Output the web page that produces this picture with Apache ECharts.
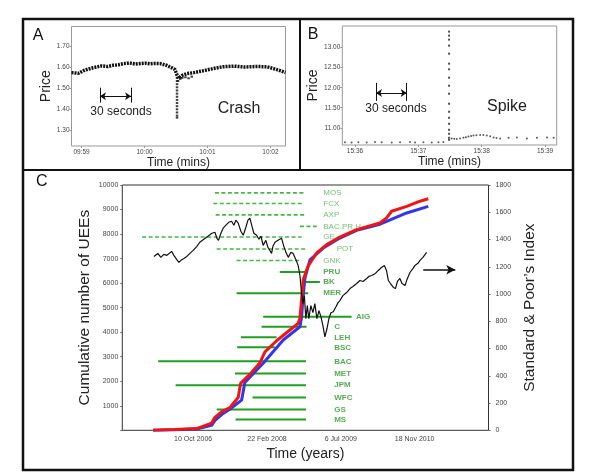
<!DOCTYPE html>
<html>
<head>
<meta charset="utf-8">
<script src="https://cdn.jsdelivr.net/npm/echarts@6/dist/echarts.min.js"></script>
<style>
  html, body { margin: 0; padding: 0; background: #fff; }
  #chart { width: 593px; height: 474px; }
</style>
</head>
<body>
<div id="chart"></div>
<script>
// ---- panel A: crash (seconds after 09:59:00, price) ----
var aSec   = [-9.6, -3, 3, 11, 19, 25, 30, 35, 40, 46, 51, 56, 61, 65, 70, 75, 81, 86, 89, 91, 92.5, 96, 100, 107, 116, 126, 135, 145, 155, 167, 177, 187, 194.4];
var aPrice = [1.575, 1.572, 1.587, 1.598, 1.607, 1.604, 1.610, 1.612, 1.618, 1.621, 1.616, 1.618, 1.620, 1.617, 1.619, 1.618, 1.610, 1.598, 1.590, 1.563, 1.548, 1.562, 1.570, 1.575, 1.584, 1.595, 1.603, 1.606, 1.602, 1.604, 1.603, 1.588, 1.576];
var aCrashSec = 91;
var aCrashPrice = [1.55, 1.535, 1.52, 1.505, 1.49, 1.475, 1.46, 1.445, 1.43, 1.415, 1.40, 1.385, 1.37, 1.36];
var aLowSec   = [92, 94, 96, 99, 102, 105];
var aLowPrice = [1.535, 1.545, 1.55, 1.553, 1.548, 1.556];
var aTicks = [0, 60, 120, 180];
var aTickLabels = ['09:59', '10:00', '10:01', '10:02'];
var aPriceTicks = [1.3, 1.4, 1.5, 1.6, 1.7];

// ---- panel B: spike (seconds after 15:36:00, price) ----
var bPreSec   = [-9.5, -3.2, 3.2, 11.1, 19, 25.3, 34.8, 42.7, 52.1, 56.9, 64.8, 72.7, 79, 83.7];
var bPrePrice = [10.64, 10.635, 10.64, 10.63, 10.645, 10.64, 10.635, 10.64, 10.645, 10.635, 10.64, 10.635, 10.64, 10.645];
var bSpikeSec = 89.1;
var bSpikePrice = [13.40, 13.30, 13.20, 13.05, 12.85, 12.60, 12.46, 12.25, 12.05, 11.85, 11.60, 11.40, 11.25, 11.10, 10.95, 10.85, 10.75, 10.70];
var bPostSec   = [91.6, 94, 96.4, 99.5, 102.7, 105, 107.4, 110, 112.2, 115, 118.5, 121.5, 124.8, 128, 131.2, 134, 137.5, 145.4, 153.3, 162.8, 172.3, 181.8, 188.1];
var bPostPrice = [10.735, 10.725, 10.72, 10.735, 10.75, 10.765, 10.78, 10.795, 10.81, 10.815, 10.82, 10.82, 10.81, 10.79, 10.76, 10.745, 10.735, 10.75, 10.76, 10.735, 10.75, 10.76, 10.75];
var bTicks = [0, 60, 120, 180];
var bTickLabels = ['15:36', '15:37', '15:38', '15:39'];
var bPriceTicks = [11, 11.5, 12, 12.5, 13];

// ---- panel C (days after 10 Oct 2006) ----
var cTicks = [0, 500, 1000, 1500];
var cTickLabels = ['10 Oct 2006', '22 Feb 2008', '6 Jul 2009', '18 Nov 2010'];

var redDays = [-271, -124, 23, 125, 147, 192, 249, 305, 321, 384, 452, 486, 565, 655, 711, 723, 734, 745, 777, 836, 904, 982, 1107, 1265, 1310, 1344, 1446, 1536, 1592];
var redUEE  = [0, 30, 70, 290, 530, 750, 930, 1340, 1910, 2280, 2750, 3200, 3650, 4090, 4360, 4570, 5320, 6130, 6680, 7230, 7570, 7840, 8180, 8450, 8660, 8930, 9130, 9340, 9440];
var blueDays = [-271, -124, 23, 125, 150, 195, 250, 328, 350, 474, 610, 723, 734, 745, 757, 791, 881, 982, 1107, 1265, 1310, 1446, 1592];
var blueUEE  = [0, 20, 50, 200, 420, 650, 870, 1230, 1950, 2730, 3680, 4220, 4600, 5500, 6200, 6950, 7430, 7800, 8150, 8400, 8520, 8860, 9130];

var spDays = [-266, -239, -219, -199, -178, -146, -131, -112, -97, -83, -63, -43, -22, 0, 25, 45, 72, 100, 127, 147, 161, 171, 188, 203, 222, 242, 260, 276, 289, 305, 323, 339, 357, 371, 384, 398, 411, 430, 445, 459, 474, 492, 506, 531, 540, 554, 574, 599, 614, 628, 644, 662, 677, 695, 711, 723, 734, 743, 753, 763, 773, 783, 797, 811, 824, 838, 852, 865, 879, 892, 906, 919, 933, 949, 967, 981, 994, 1014, 1039, 1062, 1082, 1107, 1129, 1150, 1175, 1190, 1209, 1234, 1254, 1275, 1295, 1309, 1322, 1336, 1356, 1370, 1383, 1400, 1414, 1435, 1448, 1468, 1489, 1502, 1522, 1536, 1556, 1581];
var spIndex = [1276, 1298, 1269, 1291, 1284, 1313, 1284, 1254, 1232, 1247, 1261, 1276, 1298, 1320, 1350, 1380, 1402, 1424, 1446, 1453, 1409, 1394, 1446, 1483, 1505, 1527, 1534, 1505, 1542, 1520, 1461, 1431, 1490, 1542, 1557, 1498, 1446, 1431, 1402, 1424, 1357, 1394, 1343, 1298, 1350, 1380, 1394, 1409, 1350, 1306, 1269, 1306, 1298, 1254, 1210, 1136, 1003, 930, 988, 819, 915, 819, 915, 863, 930, 819, 878, 834, 767, 686, 745, 819, 863, 870, 907, 937, 952, 988, 1011, 1040, 1055, 1077, 1099, 1092, 1114, 1129, 1136, 1151, 1173, 1195, 1210, 1173, 1099, 1077, 1048, 1040, 1092, 1114, 1077, 1062, 1107, 1158, 1188, 1210, 1225, 1247, 1269, 1306];

// green event lines: name, level (UEE), start and end day, where the label sits
var evNames = ['MOS', 'FCX', 'AXP', 'BAC.PR.H', 'GE', 'POT', 'GNK', 'PRU', 'BK', 'MER', 'AIG', 'C', 'LEH', 'BSC', 'BAC', 'MET', 'JPM', 'WFC', 'GS', 'MS'];
var evLevel = [9681, 9243, 8781, 8315, 7881, 7391, 6924, 6450, 6041, 5591, 4634, 4225, 3791, 3382, 2810, 2319, 1840, 1337, 847, 438];
var evStart = [147, 136, 152, 723, -346, 159, 294, 587, 757, 294, 474, 463, 323, 298, -237, 283, -119, 402, 159, 287];
var evEnd   = [757, 745, 764, 836, 734, 768, 734, 774, 858, 779, 1073, 768, 565, 553, 764, 764, 764, 764, 764, 764];
var evLabelDay = [881, 881, 881, 881, 881, 972, 881, 881, 881, 881, 1102, 955, 955, 955, 955, 955, 955, 955, 955, 955];
var nDashed = 7; // the first seven are drawn dashed

function zip(xs, ys) {
  var out = [];
  for (var i = 0; i < xs.length; i++) out.push([xs[i], ys[i]]);
  return out;
}
function labelFor(ticks, labels) {
  return function (v) {
    for (var i = 0; i < ticks.length; i++) {
      if (Math.abs(ticks[i] - v) < 1e-6) return labels[i];
    }
    return '';
  };
}

var FONT = 'Liberation Sans, Arial, sans-serif';
var tickLabel = { fontSize: 6.5, color: '#444', fontFamily: FONT };
var noLine = { show: false, onZero: false };

var chart = echarts.init(document.getElementById('chart'));

var series = [
  // A
  {
    type: 'line', xAxisIndex: 0, yAxisIndex: 0, data: zip(aSec, aPrice),
    showSymbol: false, lineStyle: { color: '#111', width: 3.5, type: [2, 1] },
    markLine: {
      silent: true, symbolSize: 6, label: { show: false },
      lineStyle: { color: '#111', width: 1, type: 'solid' },
      data: [
        [{ coord: [17.5, 1.462], symbol: 'arrow' }, { coord: [47.2, 1.462], symbol: 'arrow' }],
        [{ coord: [17.5, 1.503], symbol: 'none' }, { coord: [17.5, 1.432], symbol: 'none' }],
        [{ coord: [47.2, 1.503], symbol: 'none' }, { coord: [47.2, 1.432], symbol: 'none' }]
      ]
    }
  },
  {
    type: 'scatter', xAxisIndex: 0, yAxisIndex: 0, symbol: 'rect', symbolSize: [2.5, 2],
    itemStyle: { color: '#111' },
    data: aCrashPrice.map(function (p) { return [aCrashSec, p]; }).concat(zip(aLowSec, aLowPrice))
  },
  // B
  {
    type: 'scatter', xAxisIndex: 1, yAxisIndex: 1, symbolSize: 2, itemStyle: { color: '#333' },
    data: zip(bPreSec, bPrePrice).concat(zip(bPostSec, bPostPrice)),
    markLine: {
      silent: true, symbolSize: 6, label: { show: false },
      lineStyle: { color: '#111', width: 1, type: 'solid' },
      data: [
        [{ coord: [19.9, 11.87], symbol: 'arrow' }, { coord: [49, 11.87], symbol: 'arrow' }],
        [{ coord: [19.9, 12.12], symbol: 'none' }, { coord: [19.9, 11.67], symbol: 'none' }],
        [{ coord: [49, 12.12], symbol: 'none' }, { coord: [49, 11.67], symbol: 'none' }]
      ]
    }
  },
  {
    type: 'scatter', xAxisIndex: 1, yAxisIndex: 1, symbol: 'rect', symbolSize: [2, 2],
    itemStyle: { color: '#222' },
    data: bSpikePrice.map(function (p) { return [bSpikeSec, p]; })
  }
];

// C: green event lines
for (var i = 0; i < evNames.length; i++) {
  var dashed = i < nDashed;
  series.push({
    type: 'line', xAxisIndex: 2, yAxisIndex: 2, showSymbol: false, silent: true,
    data: [[evStart[i], evLevel[i]], [evEnd[i], evLevel[i]]],
    lineStyle: dashed ? { color: '#45b845', width: 1.6, type: [4, 2.5] } : { color: '#1f9e1f', width: 2 },
    z: 1
  });
}
series.push({
  type: 'scatter', xAxisIndex: 2, yAxisIndex: 2, symbolSize: 0, silent: true,
  data: evNames.slice(0, nDashed).map(function (n, k) { return [evLabelDay[k], evLevel[k], n]; }),
  label: { show: true, position: 'right', distance: 0, formatter: function (p) { return p.data[2]; },
           fontSize: 8, color: '#52b052', fontFamily: FONT }
});
series.push({
  type: 'scatter', xAxisIndex: 2, yAxisIndex: 2, symbolSize: 0, silent: true,
  data: evNames.slice(nDashed).map(function (n, k) { return [evLabelDay[k + nDashed], evLevel[k + nDashed], n]; }),
  label: { show: true, position: 'right', distance: 0, formatter: function (p) { return p.data[2]; },
           fontSize: 8, fontWeight: 'bold', color: '#2a962a', fontFamily: FONT }
});
series.push({
  type: 'line', xAxisIndex: 2, yAxisIndex: 2, data: zip(blueDays, blueUEE), showSymbol: false,
  lineStyle: { color: '#3535e8', width: 3 }, z: 3
});
series.push({
  type: 'line', xAxisIndex: 2, yAxisIndex: 2, data: zip(redDays, redUEE), showSymbol: false,
  lineStyle: { color: '#ee1515', width: 3 }, z: 4
});
series.push({
  type: 'line', xAxisIndex: 2, yAxisIndex: 3, data: zip(spDays, spIndex), showSymbol: false,
  lineStyle: { color: '#111', width: 1.2 }, z: 5,
  markLine: {
    silent: true, symbolSize: [7, 9], label: { show: false },
    lineStyle: { color: '#111', width: 1.6, type: 'solid' },
    data: [[{ coord: [1558, 1178], symbol: 'none' }, { coord: [1775, 1178], symbol: 'arrow' }]]
  }
});

var option = {
  animation: false,
  backgroundColor: '#fff',
  textStyle: { fontFamily: FONT },
  grid: [
    { left: 71.5, top: 26.5, width: 214, height: 119.5, show: true, borderColor: '#999', borderWidth: 1 },
    { left: 342.3, top: 26, width: 214.4, height: 119, show: true, borderColor: '#999', borderWidth: 1 },
    { left: 122.3, top: 185, width: 366.2, height: 245.3, show: true, borderColor: '#333', borderWidth: 1 }
  ],
  xAxis: [
    {
      type: 'value', gridIndex: 0, min: -9.6, max: 194.4,
      axisLine: noLine, splitLine: { show: false },
      axisTick: { customValues: aTicks, length: 2, lineStyle: { color: '#999' } },
      axisLabel: Object.assign({ customValues: aTicks, margin: 3, formatter: labelFor(aTicks, aTickLabels) }, tickLabel),
      name: 'Time (mins)', nameLocation: 'middle', nameGap: 9,
      nameTextStyle: { fontSize: 12, color: '#222', fontFamily: FONT }
    },
    {
      type: 'value', gridIndex: 1, min: -12, max: 191,
      axisLine: noLine, splitLine: { show: false },
      axisTick: { customValues: bTicks, length: 2, lineStyle: { color: '#999' } },
      axisLabel: Object.assign({ customValues: bTicks, margin: 3, formatter: labelFor(bTicks, bTickLabels) }, tickLabel),
      name: 'Time (mins)', nameLocation: 'middle', nameGap: 9,
      nameTextStyle: { fontSize: 12, color: '#222', fontFamily: FONT }
    },
    {
      type: 'value', gridIndex: 2, min: -480, max: 2000,
      axisLine: noLine, splitLine: { show: false },
      axisTick: { show: false },
      axisLabel: Object.assign({ customValues: cTicks, margin: 5, formatter: labelFor(cTicks, cTickLabels) }, tickLabel, { fontSize: 7 }),
      name: 'Time (years)', nameLocation: 'middle', nameGap: 17,
      nameTextStyle: { fontSize: 14, color: '#222', fontFamily: FONT }
    }
  ],
  yAxis: [
    {
      type: 'value', gridIndex: 0, min: 1.225, max: 1.795,
      axisLine: noLine, splitLine: { show: false },
      axisTick: { customValues: aPriceTicks, length: 2, lineStyle: { color: '#999' } },
      axisLabel: Object.assign({ customValues: aPriceTicks, margin: 2, formatter: function (v) { return v.toFixed(2); } }, tickLabel),
      name: 'Price', nameLocation: 'middle', nameGap: 18, nameRotate: 90,
      nameTextStyle: { fontSize: 14, color: '#222', fontFamily: FONT }
    },
    {
      type: 'value', gridIndex: 1, min: 10.57, max: 13.54,
      axisLine: noLine, splitLine: { show: false },
      axisTick: { customValues: bPriceTicks, length: 2, lineStyle: { color: '#999' } },
      axisLabel: Object.assign({ customValues: bPriceTicks, margin: 2, formatter: function (v) { return v.toFixed(2); } }, tickLabel),
      name: 'Price', nameLocation: 'middle', nameGap: 18, nameRotate: 90,
      nameTextStyle: { fontSize: 14, color: '#222', fontFamily: FONT }
    },
    {
      type: 'value', gridIndex: 2, min: 0, max: 10000, interval: 1000,
      axisLine: noLine, splitLine: { show: false },
      axisTick: { show: true, length: 2, lineStyle: { color: '#666' } },
      axisLabel: Object.assign({ margin: 4, formatter: function (v) { return v === 0 ? '' : String(v); } }, tickLabel, { fontSize: 7 }),
      name: 'Cumulative number of UEEs', nameLocation: 'middle', nameGap: 30, nameRotate: 90,
      nameMoveOverlap: false,
      nameTextStyle: { fontSize: 15.5, color: '#222', fontFamily: FONT }
    },
    {
      type: 'value', gridIndex: 2, position: 'right', min: 0, max: 1800, interval: 200,
      axisLine: noLine, splitLine: { show: false },
      axisTick: { show: true, length: 2, lineStyle: { color: '#666' } },
      axisLabel: Object.assign({ margin: 7, formatter: function (v) { return String(v); } }, tickLabel, { fontSize: 7 }),
      name: "Standard & Poor\u2019s Index", nameLocation: 'middle', nameGap: 31, nameRotate: 90,
      nameTextStyle: { fontSize: 15.5, color: '#222', fontFamily: FONT }
    }
  ],
  graphic: [
    { type: 'rect', shape: { x: 23, y: 19, width: 550, height: 451 }, style: { fill: 'none', stroke: '#111', lineWidth: 2.5 }, silent: true },
    { type: 'line', shape: { x1: 300, y1: 19, x2: 300, y2: 170 }, style: { stroke: '#111', lineWidth: 2 }, silent: true },
    { type: 'line', shape: { x1: 23, y1: 170, x2: 573, y2: 170 }, style: { stroke: '#111', lineWidth: 2 }, silent: true },
    { type: 'text', style: { text: 'A', x: 38, y: 36, font: '16px ' + FONT, fill: '#111', textAlign: 'center', textVerticalAlign: 'middle' } },
    { type: 'text', style: { text: 'B', x: 313, y: 35, font: '16px ' + FONT, fill: '#111', textAlign: 'center', textVerticalAlign: 'middle' } },
    { type: 'text', style: { text: 'C', x: 41.7, y: 181.7, font: '16px ' + FONT, fill: '#111', textAlign: 'center', textVerticalAlign: 'middle' } },
    { type: 'text', style: { text: '30 seconds', x: 121, y: 111.7, font: '12px ' + FONT, fill: '#222', textAlign: 'center', textVerticalAlign: 'middle' } },
    { type: 'text', style: { text: 'Crash', x: 239, y: 109, font: '16px ' + FONT, fill: '#222', textAlign: 'center', textVerticalAlign: 'middle' } },
    { type: 'text', style: { text: '30 seconds', x: 396, y: 109, font: '12px ' + FONT, fill: '#222', textAlign: 'center', textVerticalAlign: 'middle' } },
    { type: 'text', style: { text: 'Spike', x: 507, y: 106.7, font: '16px ' + FONT, fill: '#222', textAlign: 'center', textVerticalAlign: 'middle' } }
  ],
  series: series
};

chart.setOption(option);
</script>
</body>
</html>
